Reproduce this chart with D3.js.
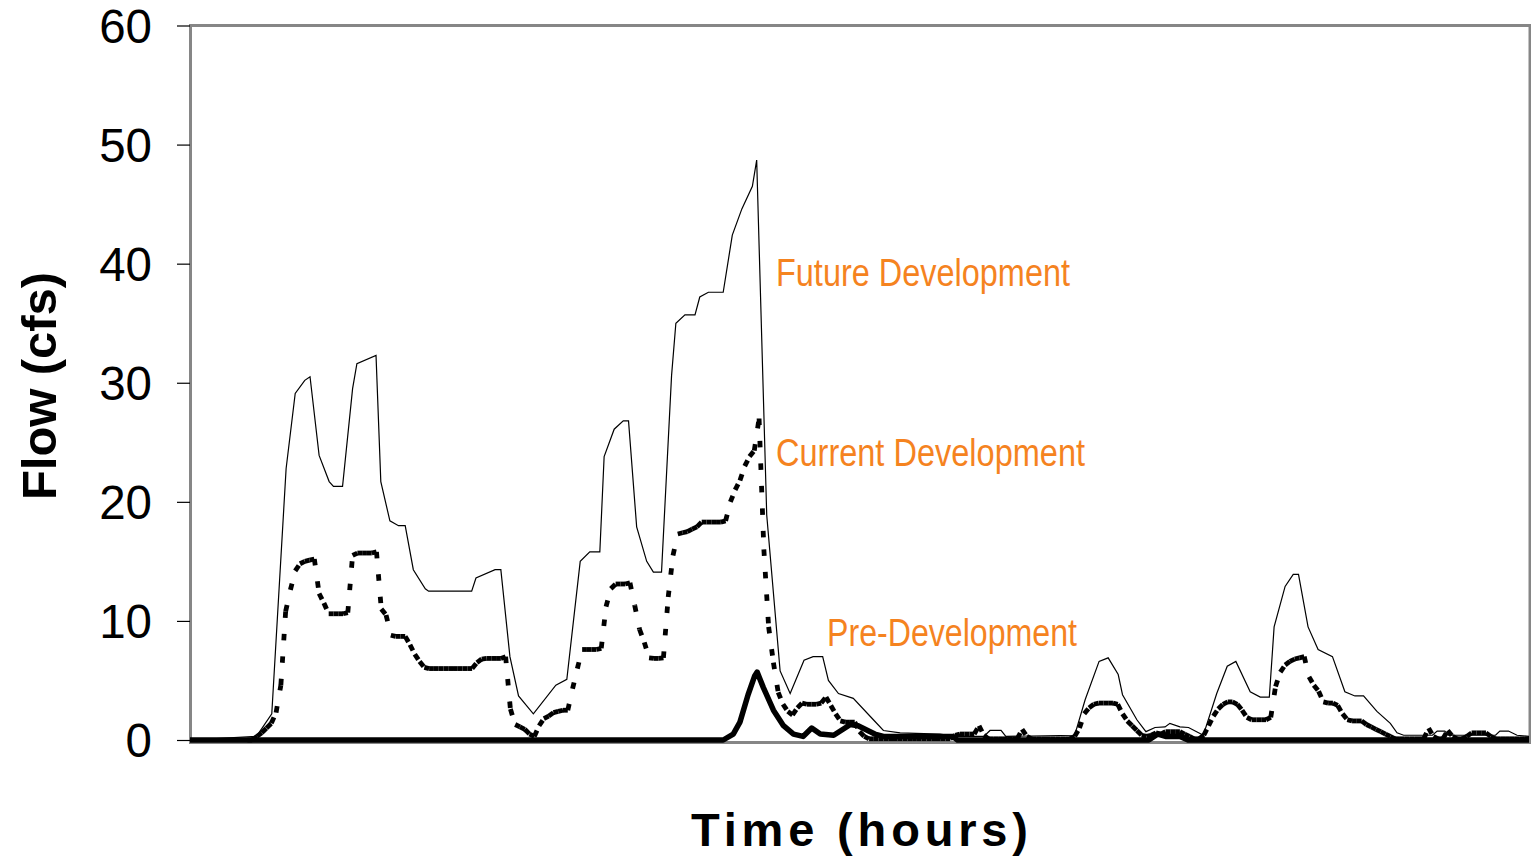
<!DOCTYPE html>
<html><head><meta charset="utf-8">
<script src="https://cdn.jsdelivr.net/npm/d3@7/dist/d3.min.js"></script>
<style>html,body{margin:0;padding:0;background:#fff;}svg{display:block;}</style>
</head><body>
<svg id="chart" width="1531" height="857"></svg>
<script>
// ---------------- DATA ----------------
const yTicks = [0, 10, 20, 30, 40, 50, 60];
const timeDomain = [0, 280]; // hours

// Future development: [hour, flow cfs] vertices
const futureSeries = [
  [0,0],[13.9,0.3],[17.1,2.2],[20.1,22.8],[22.0,29.1],[24.0,30.2],[25.1,30.5],[27.0,23.9],
  [29.1,21.7],[30.0,21.3],[31.9,21.3],[34.0,29.5],[34.9,31.6],[38.9,32.3],[39.9,21.7],
  [41.8,18.4],[43.6,18.0],[45.0,18.0],[46.7,14.3],[49.2,12.7],[49.9,12.5],[58.9,12.5],
  [59.8,13.6],[63.8,14.3],[65.0,14.3],[66.9,7.0],[68.7,3.7],[71.8,2.2],[76.5,4.6],
  [78.8,5.1],[81.6,15.0],[83.6,15.8],[85.7,15.8],[86.6,23.8],[88.7,26.1],[90.6,26.8],
  [91.7,26.8],[93.4,17.9],[95.5,15.0],[96.9,14.1],[98.6,14.1],[100.7,30.6],[101.6,35.0],
  [103.5,35.7],[105.6,35.7],[106.6,37.2],[108.4,37.6],[111.5,37.6],[113.4,42.4],
  [115.4,44.6],[117.6,46.5],[118.5,48.7],[120.6,18.9],[123.4,5.8],[125.5,3.9],
  [128.4,6.7],[130.3,7.0],[132.3,7.0],[133.5,5.0],[135.6,3.9],[138.7,3.5],[142.9,1.7],
  [145.0,0.8],[148.5,0.6],[156.8,0.5],[160.0,0.3],[166.0,0.3],[167.3,0.8],[169.6,0.8],
  [170.6,0.3],[185.0,0.4],[187.2,3.4],[190.1,6.6],[192.0,6.9],[194.1,5.5],[195.0,3.8],
  [198.0,1.7],[199.9,0.7],[201.8,1.05],[203.9,1.1],[204.9,1.4],[207.0,1.1],[208.8,1.05],
  [210.5,0.7],[211.9,0.4],[214.7,3.9],[216.9,6.2],[218.7,6.6],[221.7,4.05],[223.8,3.6],
  [225.7,3.6],[226.7,9.5],[229.0,12.9],[230.7,13.9],[231.8,13.9],[233.8,9.5],[235.9,7.6],
  [238.9,7.0],[241.5,4.05],[243.6,3.7],[245.4,3.7],[248.2,2.4],[251.0,1.4],[252.4,0.6],
  [253.8,0.4],[259.8,0.4],[260.8,0.75],[262.4,0.75],[263.1,0.4],[273.0,0.4],[273.9,0.75],
  [275.7,0.75],[277.5,0.4],[280,0.3]
];

// Current development: hourly flow, starting at hour 12
const currentStartHour = 12;
const currentFlow = [
  0,0,0.3,0.6,1.0,1.4,2.3,4.6,10.8,12.6,            // 12-21
  14.2,14.8,15.0,15.1,15.2,12.3,11.5,10.6,10.6,10.6, // 22-31
  10.6,10.7,15.5,15.7,15.7,15.7,15.7,15.8,11.0,10.5, // 32-41
  8.8,8.7,8.7,8.7,8.0,7.2,6.6,6.1,6.0,6.0,           // 42-51
  6.0,6.0,6.0,6.0,6.0,6.0,6.0,6.0,6.5,6.8,           // 52-61
  6.85,6.85,6.85,6.85,7.0,2.6,1.3,1.1,0.9,0.5,       // 62-71
  0.3,1.2,1.8,2.0,2.3,2.4,2.5,2.5,4.3,6.0,           // 72-81
  7.6,7.6,7.6,7.6,7.7,11.2,12.7,13.1,13.1,13.1,      // 82-91
  13.2,11.3,9.3,8.2,6.9,6.85,6.85,6.9,12.0,15.5,     // 92-101
  17.3,17.4,17.5,17.7,17.9,18.3,18.3,18.3,18.3,18.3, // 102-111
  18.4,20.0,21.0,21.8,23.0,23.8,24.3,27.0,16.0,9.5,  // 112-121
  6.5,4.0,3.0,2.4,2.1,2.7,3.1,3.0,3.0,3.0,           // 122-131
  3.1,3.6,2.9,2.2,1.6,1.5,1.5,1.5,0.7,0.3,           // 132-141
  0.1,0.1,0.1,0.1,0.1,0.1,0.1,0.1,0.1,0.1,           // 142-151
  0.1,0.1,0.1,0.1,0.1,0.1,0.1,0.1,0.4,0.5,           // 152-161
  0.5,0.5,0.5,1.2,0.4,0.1,0.1,0.1,0.1,0.1,           // 162-171
  0.1,0.1,0.9,0.3,0.1,0.1,0.1,0.1,0.1,0.1,           // 172-181
  0.1,0.1,0.1,0.3,1.0,2.2,2.7,3.0,3.1,3.1,           // 182-191
  3.1,3.1,3.0,2.2,1.6,1.2,0.8,0.4,0.3,0.4,           // 192-201
  0.6,0.5,0.7,0.7,0.7,0.7,0.5,0.3,0.1,0.1,           // 202-211
  0.4,1.2,2.0,2.6,3.0,3.2,3.2,3.0,2.5,1.9,           // 212-221
  1.7,1.7,1.7,1.7,1.9,4.5,5.7,6.3,6.6,6.8,           // 222-231
  6.9,7.0,5.3,4.6,4.1,3.2,3.1,3.1,2.9,2.2,           // 232-241
  1.7,1.6,1.6,1.6,1.3,1.1,0.9,0.7,0.5,0.3,           // 242-251
  0.1,0.1,0.1,0.1,0.1,0.1,0.1,1.0,0.3,0.1,           // 252-261
  0.1,0.8,0.3,0.1,0.1,0.3,0.6,0.6,0.6,0.6,           // 262-271
  0.3,0.1,0.1,0.1,0.1,0.1,0.1,0.1,0.1                // 272-280
];

// Pre-development: [hour, flow cfs]
const preSeries = [
  [0,0],[111.5,0],[113.6,0.5],[115.0,1.5],[116.7,3.8],[118.1,5.4],[118.6,5.7],[119.9,4.4],
  [122.0,2.5],[124.1,1.2],[126.2,0.5],[128.2,0.3],[130.0,1.0],[131.8,0.5],[134.6,0.4],
  [138.1,1.3],[139.7,1.2],[143.2,0.5],[145.0,0.3],[159.5,0.3],[160.5,0],[200.5,0],
  [202.4,0.5],[204.0,0.3],[207.0,0.3],[208.7,0],[280,0]
];

const seriesLabels = ["Future Development", "Current Development", "Pre-Development"];
const yTitle = "Flow (cfs)";
const xTitle = "Time (hours)";

// ---------------- DRAW ----------------
const svg = d3.select("#chart");
const W = 1531, H = 857;
const plot = {left: 190, right: 1529, top: 25.5, bottom: 740};
const x = d3.scaleLinear().domain(timeDomain).range([plot.left, plot.right]);
const y = d3.scaleLinear().domain([0, 60]).range([plot.bottom, plot.top]);

svg.append("rect").attr("width", W).attr("height", H).attr("fill", "#fff");

// plot frame
svg.append("rect")
  .attr("x", 190.5).attr("y", 25.5)
  .attr("width", 1339.5).attr("height", 717)
  .attr("fill", "none").attr("stroke", "#868686").attr("stroke-width", 3);

// y axis ticks and labels
const yAxis = d3.axisLeft(y).tickValues(yTicks).tickSize(13).tickPadding(25).tickFormat(d3.format("d"));
const ga = svg.append("g").attr("transform", `translate(${plot.left},0)`).call(yAxis);
ga.select(".domain").remove();
ga.selectAll(".tick line").attr("stroke", "#000").attr("stroke-width", 1.2);
ga.selectAll(".tick text")
  .attr("fill", "#000")
  .style("font-family", "'Liberation Sans', Arial, sans-serif")
  .style("font-size", "47.5px")
  .attr("dy", "0.35em");

// lines
const line = d3.line().x(d => x(d[0])).y(d => y(d[1]));

svg.append("path").datum(futureSeries)
  .attr("d", line).attr("fill", "none")
  .attr("stroke", "#000").attr("stroke-width", 1.2).attr("stroke-linejoin", "miter");

const currentPts = currentFlow.map((v, i) => [currentStartHour + i, v]);
svg.append("g").selectAll("line").data(d3.pairs(currentPts)).join("line")
  .attr("x1", d => x(d[0][0])).attr("y1", d => y(d[0][1]))
  .attr("x2", d => x(d[1][0])).attr("y2", d => y(d[1][1]))
  .attr("stroke", "#000").attr("stroke-width", 4.8)
  .attr("stroke-dasharray", "6.5,16").attr("stroke-linecap", "butt");

svg.append("path").datum(preSeries)
  .attr("d", line).attr("fill", "none")
  .attr("stroke", "#000").attr("stroke-width", 5.5).attr("stroke-linejoin", "round");

// series labels
const labelStyle = [
  {x: 776, y: 286, w: 294},
  {x: 776, y: 466, w: 309},
  {x: 827, y: 646, w: 250}
];
svg.append("g").selectAll("text").data(seriesLabels).join("text")
  .attr("x", (d, i) => labelStyle[i].x)
  .attr("y", (d, i) => labelStyle[i].y)
  .attr("textLength", (d, i) => labelStyle[i].w)
  .attr("lengthAdjust", "spacingAndGlyphs")
  .attr("fill", "#F5831F")
  .style("font-family", "'Liberation Sans Narrow', 'Liberation Sans', Arial, sans-serif")
  .style("font-size", "38px")
  .text(d => d);

// axis titles
svg.append("text")
  .attr("transform", "translate(56,386) rotate(-90)")
  .attr("text-anchor", "middle")
  .attr("textLength", 228).attr("lengthAdjust", "spacing")
  .style("font-family", "'Liberation Sans', Arial, sans-serif")
  .style("font-weight", "bold").style("font-size", "49px")
  .attr("fill", "#000")
  .text(yTitle);

svg.append("text")
  .attr("x", 691).attr("y", 846)
  .attr("textLength", 337).attr("lengthAdjust", "spacing")
  .style("font-family", "'Liberation Sans', Arial, sans-serif")
  .style("font-weight", "bold").style("font-size", "47px")
  .attr("fill", "#000")
  .text(xTitle);
</script>
</body></html>
